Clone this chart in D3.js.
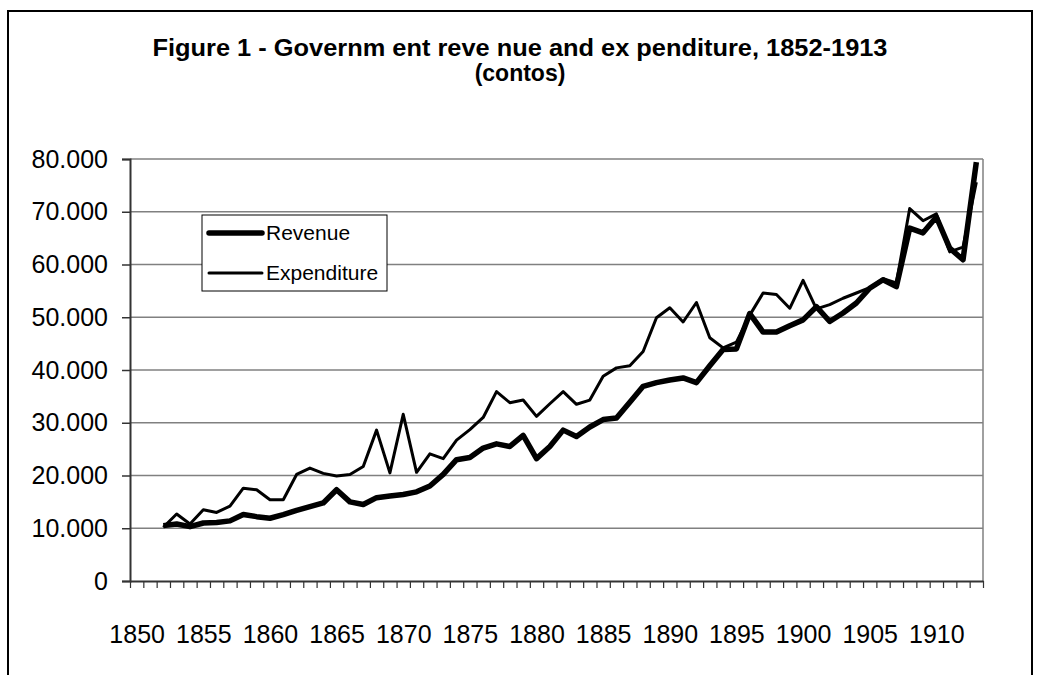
<!DOCTYPE html>
<html>
<head>
<meta charset="utf-8">
<script src="https://cdn.jsdelivr.net/npm/d3@7"></script>
<style>
  body { margin: 0; background: #fff; }
  svg { display: block; font-family: "Liberation Sans", Arial, sans-serif; }
</style>
</head>
<body>
<div id="chart"></div>
<script>
// data (contos)
const years = d3.range(1852, 1914);
const revenue = [10500, 10800, 10300, 11000, 11100, 11400, 12600, 12200, 11900, 12600,
  13400, 14100, 14800, 17300, 15000, 14500, 15800, 16100, 16400, 16900,
  18000, 20200, 23000, 23400, 25200, 26000, 25500, 27600, 23200, 25500,
  28600, 27400, 29200, 30600, 30900, 33900, 36900, 37600, 38100, 38500,
  37600, 40800, 43900, 44000, 50700, 47200, 47200, 48400, 49500, 52000,
  49200, 50800, 52700, 55500, 57100, 55800, 66900, 66000, 69000, 63100,
  60900, 79400];
const expenditure = [10200, 12700, 10800, 13500, 13000, 14200, 17600, 17300, 15400, 15400,
  20200, 21400, 20400, 19900, 20200, 21700, 28600, 20500, 31600, 20600,
  24100, 23200, 26700, 28700, 31000, 35900, 33800, 34300, 31200, 33600,
  35900, 33500, 34300, 38800, 40400, 40800, 43500, 49900, 51800, 49100,
  52800, 46100, 44200, 45300, 50400, 54600, 54300, 51700, 57000, 51600,
  52400, 53600, 54600, 55600, 57300, 56500, 70600, 68300, 69600, 62400,
  63300, 75600];
const yTicks = [0, 10000, 20000, 30000, 40000, 50000, 60000, 70000, 80000];
const xLabels = [1850, 1855, 1860, 1865, 1870, 1875, 1880, 1885, 1890, 1895, 1900, 1905, 1910];
const firstCat = 1850, lastCat = 1913;

const W = 1041, H = 675;
const plot = {left: 130, right: 983, top: 159, bottom: 581};

const svg = d3.select('#chart').append('svg')
  .attr('width', W)
  .attr('height', H);

// outer chart frame
svg.append('rect')
  .attr('x', 8).attr('y', 11)
  .attr('width', 1024).attr('height', 720)
  .attr('fill', 'none')
  .attr('stroke', '#000')
  .attr('stroke-width', 2);

// title
const title = svg.append('text')
  .attr('text-anchor', 'middle')
  .attr('font-weight', 'bold')
  .attr('font-size', 23)
  .attr('fill', '#000');
title.append('tspan').attr('x', 520).attr('y', 56)
  .attr('textLength', 735).attr('lengthAdjust', 'spacingAndGlyphs')
  .text('Figure 1 - Governm ent reve nue and ex penditure, 1852-1913');
title.append('tspan').attr('x', 520).attr('y', 81)
  .text('(contos)');

const x = d3.scaleLinear()
  .domain([firstCat - 0.5, lastCat + 0.5])
  .range([plot.left, plot.right]);
const y = d3.scaleLinear()
  .domain([0, 80000])
  .range([plot.bottom, plot.top]);

const fmt = d3.formatLocale({decimal: ',', thousands: '.', grouping: [3], currency: ['', '']}).format(',d');

// gridlines
svg.append('g')
  .selectAll('line')
  .data(yTicks.slice(1))
  .enter()
  .append('line')
    .attr('x1', plot.left).attr('x2', plot.right)
    .attr('y1', d => y(d)).attr('y2', d => y(d))
    .attr('stroke', '#808080')
    .attr('stroke-width', 1.5);

// plot area right border
svg.append('line')
  .attr('x1', plot.right).attr('x2', plot.right)
  .attr('y1', plot.top).attr('y2', plot.bottom)
  .attr('stroke', '#808080')
  .attr('stroke-width', 1.5);

// y axis
const yAxis = svg.append('g')
  .attr('transform', 'translate(' + plot.left + ',0)')
  .call(d3.axisLeft(y).tickValues(yTicks).tickFormat(fmt).tickSize(8).tickPadding(14));
yAxis.select('.domain').attr('stroke', '#333').attr('stroke-width', 2);
yAxis.selectAll('.tick line').attr('stroke', '#333').attr('stroke-width', 1.5);
yAxis.selectAll('text').attr('font-size', 25).attr('fill', '#000')
  .attr('font-family', '"Liberation Sans", Arial, sans-serif');

// x axis: tick marks between categories
const bounds = d3.range(firstCat, lastCat + 2).map(d => d - 0.5);
const xAxis = svg.append('g')
  .attr('transform', 'translate(0,' + plot.bottom + ')')
  .call(d3.axisBottom(x).tickValues(bounds).tickFormat('').tickSize(7).tickSizeOuter(0));
xAxis.select('.domain').attr('stroke', '#333').attr('stroke-width', 2);
xAxis.selectAll('.tick line').attr('stroke', '#333').attr('stroke-width', 1.2);

// x labels
const xLab = svg.append('g')
  .attr('transform', 'translate(0,' + plot.bottom + ')')
  .call(d3.axisBottom(x).tickValues(xLabels).tickFormat(d3.format('d')).tickSize(0).tickPadding(44));
xLab.select('.domain').remove();
xLab.selectAll('text').attr('font-size', 25).attr('fill', '#000')
  .attr('font-family', '"Liberation Sans", Arial, sans-serif');

// lines
const line = d3.line()
  .x((d, i) => x(years[i]))
  .y(d => y(d));

svg.append('path')
  .datum(expenditure)
  .attr('d', line)
  .attr('fill', 'none')
  .attr('stroke', '#000')
  .attr('stroke-width', 3)
  .attr('stroke-linejoin', 'round');

svg.append('path')
  .datum(revenue)
  .attr('d', line)
  .attr('fill', 'none')
  .attr('stroke', '#000')
  .attr('stroke-width', 5.5)
  .attr('stroke-linejoin', 'round');

// legend
const legend = svg.append('g');
legend.append('rect')
  .attr('x', 202).attr('y', 215)
  .attr('width', 185).attr('height', 76)
  .attr('fill', '#fff')
  .attr('stroke', '#000')
  .attr('stroke-width', 1);
const legItems = [
  {name: 'Revenue', w: 5.5, y: 233},
  {name: 'Expenditure', w: 3, y: 273}
];
legItems.forEach(function(it){
  legend.append('line')
    .attr('x1', 209).attr('x2', 262)
    .attr('y1', it.y).attr('y2', it.y)
    .attr('stroke', '#000')
    .attr('stroke-width', it.w)
    .attr('stroke-linecap', 'round');
  legend.append('text')
    .attr('x', 266).attr('y', it.y)
    .attr('dy', '0.35em')
    .attr('font-size', 21)
    .text(it.name);
});
</script>
</body>
</html>
